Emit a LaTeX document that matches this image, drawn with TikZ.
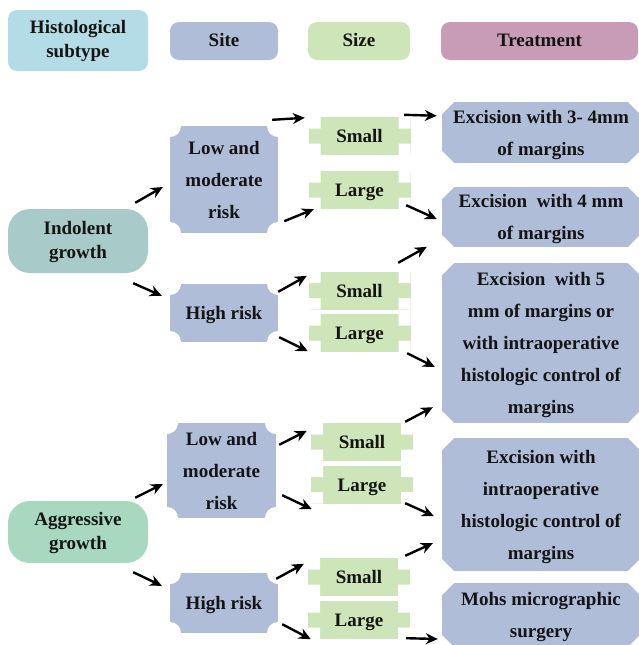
\documentclass[tikz,border=0pt]{standalone}
\usepackage{fontspec}
\setmainfont{Liberation Serif}
\usetikzlibrary{arrows.meta}
\definecolor{hdrblue}{RGB}{180,220,230}
\definecolor{sitecol}{RGB}{175,189,216}
\definecolor{sizecol}{RGB}{205,229,185}
\definecolor{treatcol}{RGB}{200,155,182}
\definecolor{indcol}{RGB}{168,202,201}
\definecolor{aggcol}{RGB}{168,216,192}
\definecolor{txt}{RGB}{20,20,20}
\newcommand{\tb}[1]{\raisebox{-4.75pt}[0pt][0pt]{\begin{tabular}{@{}c@{}}#1\end{tabular}}}
\begin{document}
\begin{tikzpicture}[x=1pt,y=1pt,
 every node/.style={font=\fontsize{19}{32}\selectfont\bfseries, text=txt, inner sep=0pt},
 hdr/.style={rounded corners=9pt, minimum height=38pt, font=\fontsize{19}{24}\selectfont\bfseries},
 subt/.style={rounded corners=22pt, minimum width=140pt, font=\fontsize{19}{24}\selectfont\bfseries},
 sitebox/.style={fill=sitecol, minimum width=108pt,
   path picture={\fill[white] (path picture bounding box.north west) circle (11pt)
     (path picture bounding box.north east) circle (11pt)
     (path picture bounding box.south west) circle (11pt)
     (path picture bounding box.south east) circle (11pt);}},
 sizebox/.style={fill=sizecol, minimum width=102pt, minimum height=38pt,
   path picture={\fill[white] (path picture bounding box.north west) rectangle ++(12,-11.5)
     (path picture bounding box.north east) rectangle ++(-12,-11.5)
     (path picture bounding box.south west) rectangle ++(12,11.5)
     (path picture bounding box.south east) rectangle ++(-12,11.5);}},
 treatbox/.style={fill=sitecol, minimum width=198pt,
   path picture={\fill[white] (path picture bounding box.north west) -- ++(12,0) -- ++(-12,-12) -- cycle
     (path picture bounding box.north east) -- ++(-12,0) -- ++(12,-12) -- cycle
     (path picture bounding box.south west) -- ++(12,0) -- ++(-12,12) -- cycle
     (path picture bounding box.south east) -- ++(-12,0) -- ++(12,12) -- cycle;}},
 arr/.style={line width=2.4pt, -{Stealth[length=12pt,width=11pt]}}
]
\useasboundingbox (0,0) rectangle (639,-645);
% headers
\node[hdr, fill=hdrblue, minimum width=140pt, minimum height=61pt] (hhist) at (78,-40.5) {\tb{Histological\\subtype}};
\node[hdr, fill=sitecol, minimum width=108pt] (hsite) at (224,-41) {\tb{Site}};
\node[hdr, fill=sizecol, minimum width=102pt] (hsize) at (359,-41) {\tb{Size}};
\node[hdr, fill=treatcol, minimum width=197pt] (htreat) at (539.5,-41) {\tb{Treatment}};
% subtypes
\node[subt, fill=indcol, minimum height=64pt] (ind) at (78,-241) {\tb{Indolent\\growth}};
\node[subt, fill=aggcol, minimum height=62pt] (agg) at (78,-532) {\tb{Aggressive\\growth}};
% sites
\node[sitebox, minimum height=107pt] (lm1) at (224,-179.5) {\tb{Low and\\moderate\\risk}};
\node[sitebox, minimum height=58pt] (hr1) at (224,-313) {\tb{High risk}};
\node[sitebox, minimum width=109pt, minimum height=95pt] (lm2) at (221.5,-470.5) {\tb{Low and\\moderate\\risk}};
\node[sitebox, minimum height=60pt] (hr2) at (224,-603) {\tb{High risk}};
% sizes
\node[sizebox] (s1) at (359.5,-136) {\tb{Small}};
\node[sizebox] (l1) at (359.5,-190) {\tb{Large}};
\node[sizebox] (s2) at (359.5,-290.5) {\tb{Small}};
\node[sizebox] (l2) at (359.5,-333) {\tb{Large}};
\node[sizebox] (s3) at (362,-442) {\tb{Small}};
\node[sizebox] (l3) at (362,-484.5) {\tb{Large}};
\node[sizebox] (s4) at (359,-577) {\tb{Small}};
\node[sizebox] (l4) at (359,-620) {\tb{Large}};
% treatments
\node[treatbox, minimum height=61pt] (t1) at (541,-132.5) {\tb{Excision with 3- 4mm\\of margins}};
\node[treatbox, minimum height=60pt] (t2) at (541,-217) {\tb{Excision\ \ with 4 mm\\of margins}};
\node[treatbox, minimum height=160pt] (t3) at (541,-343) {\tb{Excision\ \ with 5\\mm of margins or\\with intraoperative\\histologic control of\\margins}};
\node[treatbox, minimum height=133pt] (t4) at (541,-504.5) {\tb{Excision with\\intraoperative\\histologic control of\\margins}};
\node[treatbox, minimum height=64pt] (t5) at (541,-615) {\tb{Mohs micrographic\\surgery}};
% arrows
\draw[arr] ([shift={(-13,6)}]ind.north east) -- ([shift={(-7,-7.5)}]lm1.west);
\draw[arr] ([shift={(-15,-10)}]ind.south east) -- ([shift={(-8,-12)}]hr1.north west);
\draw[arr] ([shift={(-6,6)}]lm1.north east) -- ([shift={(-3.5,-1)}]s1.north west);
\draw[arr] ([shift={(6,12)}]lm1.south east) -- ([shift={(5.5,0)}]l1.south west);
\draw[arr] ([shift={(0,-8)}]hr1.north east) -- ([shift={(-1.5,-4.5)}]s2.north west);
\draw[arr] ([shift={(1,5)}]hr1.south east) -- ([shift={(-0.5,1)}]l2.south west);
\draw[arr] ([shift={(-6.5,2)}]s1.north east) -- ([shift={(-5,-14)}]t1.north west);
\draw[arr] ([shift={(-4.5,4)}]l1.south east) -- ([shift={(-5,-2)}]t2.west);
\draw[arr] ([shift={(-12.5,8.5)}]s2.north east) -- ([shift={(-15,16)}]t3.north west);
\draw[arr] ([shift={(-3.5,-1)}]l2.south east) -- ([shift={(-7,-24)}]t3.west);
\draw[arr] ([shift={(-13,3)}]agg.north east) -- ([shift={(-4,-13.5)}]lm2.west);
\draw[arr] ([shift={(-15,-9)}]agg.south east) -- ([shift={(-8,-13)}]hr2.north west);
\draw[arr] ([shift={(3,-22)}]lm2.north east) -- ([shift={(-4,-8)}]s3.north west);
\draw[arr] ([shift={(6,23)}]lm2.south east) -- ([shift={(1,-5.5)}]l3.south west);
\draw[arr] ([shift={(-8,1)}]s3.north east) -- ([shift={(-9,16)}]t3.south west);
\draw[arr] ([shift={(-8,0.5)}]l3.south east) -- ([shift={(-8,-11.5)}]t4.west);
\draw[arr] ([shift={(-2,-6)}]hr2.north east) -- ([shift={(-4,-6)}]s4.north west);
\draw[arr] ([shift={(4,9)}]hr2.south east) -- ([shift={(3,0)}]l4.south west);
\draw[arr] ([shift={(-5,2)}]s4.north east) -- ([shift={(-9,28)}]t4.south west);
\draw[arr] ([shift={(-4,1)}]l4.south east) -- ([shift={(-4,-24)}]t5.west);
\end{tikzpicture}
\end{document}
